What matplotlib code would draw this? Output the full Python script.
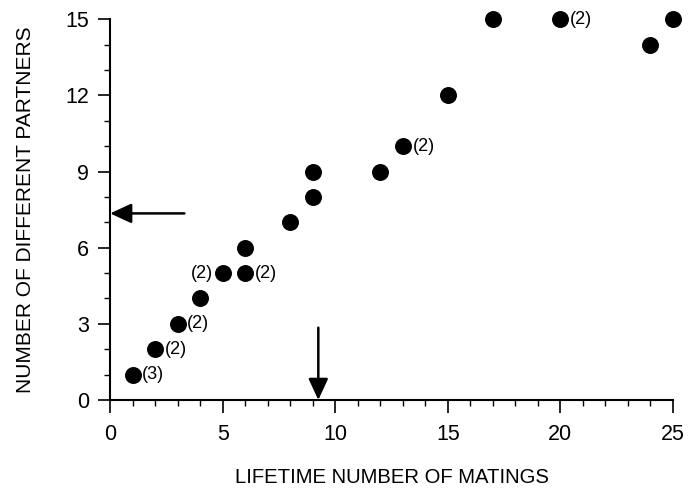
import matplotlib
matplotlib.use("Agg")
import matplotlib.pyplot as plt
from matplotlib.ticker import MultipleLocator

plt.rcParams['font.family'] = ['Liberation Sans', 'DejaVu Sans']

matings = [1, 2, 3, 4, 5, 6, 6, 8, 9, 9, 12, 13, 15, 17, 20, 24, 25]
partners = [1, 2, 3, 4, 5, 5, 6, 7, 8, 9, 9, 10, 12, 15, 15, 14, 15]
counts = ["(3)", "(2)", "(2)", "", "(2)", "(2)", "", "", "", "", "", "(2)", "", "", "(2)", "", ""]
count_side = ["r", "r", "r", "", "l", "r", "", "", "", "", "", "r", "", "", "r", "", ""]

mean_partners = 7.35
mean_matings = 9.25
arrow_tail_x = 3.3
arrow_tail_y = 2.85

fig = plt.figure(figsize=(6.88, 4.92), dpi=100)
ax = fig.add_axes([0.16, 0.187, 0.818, 0.774])

ax.scatter(matings, partners, s=125, color='black', clip_on=False, zorder=3)

for x, y, t, side in zip(matings, partners, counts, count_side):
    if not t:
        continue
    if side == "r":
        ax.annotate(t, (x, y), xytext=(7, 0), textcoords='offset points',
                    ha='left', va='center', fontsize=13)
    else:
        ax.annotate(t, (x, y), xytext=(-7, 0), textcoords='offset points',
                    ha='right', va='center', fontsize=13)

astyle = '-|>,head_length=1.3,head_width=0.6'
ax.annotate('', xy=(0, mean_partners), xytext=(arrow_tail_x, mean_partners),
            arrowprops=dict(arrowstyle=astyle, color='black', lw=1.8,
                            shrinkA=0, shrinkB=0),
            annotation_clip=False)
ax.annotate('', xy=(mean_matings, 0), xytext=(mean_matings, arrow_tail_y),
            arrowprops=dict(arrowstyle=astyle, color='black', lw=1.8,
                            shrinkA=0, shrinkB=0),
            annotation_clip=False)

ax.set_xlim(0, 25)
ax.set_ylim(0, 15)
ax.xaxis.set_major_locator(MultipleLocator(5))
ax.xaxis.set_minor_locator(MultipleLocator(1))
ax.yaxis.set_major_locator(MultipleLocator(3))
ax.yaxis.set_minor_locator(MultipleLocator(1))
ax.spines['top'].set_visible(False)
ax.spines['right'].set_visible(False)
ax.spines['left'].set_linewidth(1.5)
ax.spines['bottom'].set_linewidth(1.5)
ax.tick_params(which='major', direction='out', length=9, width=1.2, labelsize=15.5)
ax.tick_params(axis='x', which='major', pad=8)
ax.tick_params(axis='y', which='major', pad=6)
ax.tick_params(which='minor', direction='out', length=4.5, width=1.0)

ax.set_xlabel('LIFETIME NUMBER OF MATINGS', fontsize=14.6, labelpad=17)
ax.set_ylabel('NUMBER OF DIFFERENT PARTNERS', fontsize=15, labelpad=22)

fig.savefig('out.png', dpi=100)
